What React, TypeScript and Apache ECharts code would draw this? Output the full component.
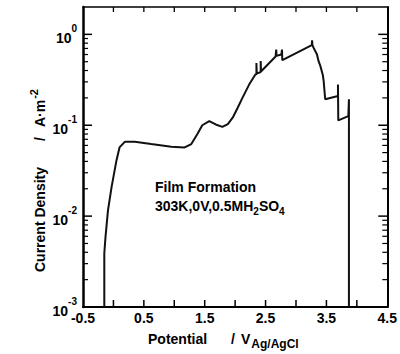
import React, { useEffect, useRef } from 'react';
import * as echarts from 'echarts';

// Potential (V vs Ag/AgCl) and current density (A/m^2)
const potential = [
  -0.15, -0.15, -0.13, -0.09, -0.03, 0.05, 0.1, 0.19, 0.35, 0.62, 0.95, 1.17, 1.28, 1.38, 1.46,
  1.575, 1.68, 1.79, 1.88, 1.96, 2.04, 2.12, 2.23, 2.33,
  2.35, 2.35, 2.355, 2.42, 2.42, 2.425,
  2.665, 2.675, 2.68, 2.76, 2.77, 2.775, 2.8,
  3.26, 3.265, 3.27, 3.29, 3.345, 3.37, 3.4, 3.44, 3.455, 3.48,
  3.69, 3.69, 3.695, 3.86, 3.87, 3.87,
];
const currentDensity = [
  0.001, 0.0039, 0.0059, 0.0115, 0.021, 0.041, 0.057, 0.066, 0.066, 0.062, 0.058, 0.057, 0.062, 0.08, 0.1,
  0.111, 0.102, 0.096, 0.103, 0.121, 0.155, 0.2, 0.28, 0.36,
  0.365, 0.485, 0.37, 0.385, 0.51, 0.39,
  0.57, 0.68, 0.58, 0.6, 0.68, 0.52, 0.53,
  0.76, 0.86, 0.76, 0.71, 0.6, 0.51, 0.45, 0.36, 0.305, 0.193,
  0.21, 0.28, 0.113, 0.126, 0.193, 0.001,
];

const xTickValues = [0, 0.5, 1, 1.5, 2, 2.5, 3, 3.5, 4];
const xTickLabels = ['-0.5', '0.5', '1.5', '2.5', '3.5', '4.5'];
const yDecades = [-3, -2, -1, 0];
const minorMultipliers = [2, 3, 4, 5, 6, 7, 8, 9];
const annotationTitle = 'Film Formation';
const annotationCondition = ['303K,0V,0.5MH', '2', 'SO', '4'];
const xName = ['Potential', '/', 'V', 'Ag/AgCl'];
const yName = ['Current Density', '/', 'A·m', '-2'];

const X_MIN = -0.5;
const X_MAX = 4.5;
const Y_MIN = 0.001;
const Y_MAX = 2;

const FONT = 'Liberation Sans, Arial, sans-serif';
const INK = '#000';

let measureCtx: CanvasRenderingContext2D | null = null;
function textWidth(text: string, size: number): number {
  if (!measureCtx) measureCtx = document.createElement('canvas').getContext('2d');
  if (!measureCtx) return text.length * size * 0.6;
  measureCtx.font = `bold ${size}px "Liberation Sans", Arial, sans-serif`;
  return measureCtx.measureText(text).width;
}

function label(text: string, x: number, y: number, size: number, rotation = 0) {
  return {
    type: 'text',
    x,
    y,
    rotation,
    silent: true,
    style: {
      text,
      fontSize: size,
      fontFamily: FONT,
      fontWeight: 'bold',
      fill: INK,
      align: 'left',
      verticalAlign: 'middle',
    },
  };
}

function tickRect(x: number, y: number, w: number, h: number) {
  return { type: 'rect', silent: true, z: 50, shape: { x, y, width: w, height: h }, style: { fill: INK } };
}

export default function App() {
  const ref = useRef<HTMLDivElement>(null);

  useEffect(() => {
    if (!ref.current) return;
    const chart = echarts.init(ref.current, undefined, { renderer: 'svg' });

    const yLabel = (v: number) => {
      const e = Math.log10(v);
      const r = Math.round(e);
      if (Math.abs(e - r) > 1e-6 || !yDecades.includes(r)) return '';
      return `{b|10}{s|${r === 0 ? '0' : '-' + Math.abs(r)}}`;
    };

    const base = { fontFamily: FONT, fontWeight: 'bold' as const, color: INK, fill: INK };

    chart.setOption({
      animation: false,
      grid: { left: 83, right: 11, top: 7, bottom: 47 },
      xAxis: [
        {
          type: 'value',
          min: X_MIN,
          max: X_MAX,
          interval: 0.5,
          splitLine: { show: false },
          axisLine: { show: true, onZero: false, lineStyle: { color: INK, width: 2 } },
          axisTick: { show: false },
          axisLabel: {
            margin: 4,
            fontSize: 14,
            fontFamily: FONT,
            fontWeight: 'bold',
            color: INK,
            formatter: (v: number) => {
              const s = v.toFixed(1);
              return xTickLabels.includes(s) ? s : '';
            },
          },
        },
        {
          type: 'value',
          min: X_MIN,
          max: X_MAX,
          interval: 0.5,
          position: 'top',
          splitLine: { show: false },
          axisLine: { show: true, lineStyle: { color: INK, width: 1.5 } },
          axisTick: { show: false },
          axisLabel: { show: false },
        },
      ],
      yAxis: [
        {
          type: 'log',
          min: Y_MIN,
          max: Y_MAX,
          interval: 1,
          splitLine: { show: false },
          axisLine: { show: true, onZero: false, lineStyle: { color: INK, width: 2.5 } },
          axisTick: { show: false },
          axisLabel: {
            margin: 6,
            formatter: yLabel,
            rich: {
              b: { ...base, fontSize: 14, padding: [7, 0, 0, 0] },
              s: { ...base, fontSize: 10, verticalAlign: 'top' },
            },
          },
        },
        {
          type: 'log',
          min: Y_MIN,
          max: Y_MAX,
          interval: 1,
          position: 'right',
          splitLine: { show: false },
          axisLine: { show: true, onZero: false, lineStyle: { color: INK, width: 2 } },
          axisTick: { show: false },
          axisLabel: { show: false },
        },
      ],
      series: [
        {
          type: 'line',
          xAxisIndex: 0,
          yAxisIndex: 0,
          data: potential.map((x, i) => [x, currentDensity[i]]),
          showSymbol: false,
          symbol: 'none',
          lineStyle: { color: '#111', width: 2 },
          z: 3,
        },
      ],
    });

    // tick marks placed through the axes' own scales
    const px = (v: number) => chart.convertToPixel({ xAxisIndex: 0 }, v) as number;
    const py = (v: number) => chart.convertToPixel({ yAxisIndex: 0 }, v) as number;
    const left = px(X_MIN);
    const right = px(X_MAX);
    const top = py(Y_MAX);
    const bottom = py(Y_MIN);

    const ticks: any[] = [];
    xTickValues.forEach((v) => {
      const x = px(v);
      ticks.push(tickRect(x - 0.75, bottom - 7, 1.5, 7));
      ticks.push(tickRect(x - 0.65, top, 1.3, 5));
    });
    yDecades.forEach((d) => {
      const y = py(Math.pow(10, d));
      if (d > yDecades[0]) {
        ticks.push(tickRect(left, y - 0.75, 9, 1.5));
      }
      ticks.push(tickRect(right - 9, y - 0.75, 9, 1.5));
      minorMultipliers.forEach((k) => {
        const v = k * Math.pow(10, d);
        if (v >= Y_MAX) return;
        const ym = py(v);
        ticks.push(tickRect(left, ym - 0.6, 5, 1.2));
        ticks.push(tickRect(right - 5, ym - 0.6, 5, 1.2));
      });
    });

    // label layout pieces
    const xn0 = 148;
    const xn1 = xn0 + textWidth(xName[0], 14) + 24;
    const xn2 = xn1 + textWidth(xName[1], 14) + 6;
    const xn3 = xn2 + textWidth(xName[2], 14) + 1;
    const an0 = 155;
    const an1 = an0 + textWidth(annotationCondition[0], 14);
    const an2 = an1 + textWidth(annotationCondition[1], 10);
    const an3 = an2 + textWidth(annotationCondition[2], 14);
    const yn0 = 272;
    const yn1 = yn0 - textWidth(yName[0], 14) - 26;
    const yn2 = yn1 - textWidth(yName[1], 14) - 10;
    const yn3 = yn2 - textWidth(yName[2], 14) - 1;
    const R = Math.PI / 2;

    chart.setOption({
      graphic: [
        label(annotationTitle, 155, 187, 14),
        label(annotationCondition[0], an0, 206, 14),
        label(annotationCondition[1], an1, 211, 10),
        label(annotationCondition[2], an2, 206, 14),
        label(annotationCondition[3], an3, 211, 10),
        label(xName[0], xn0, 338.5, 14),
        label(xName[1], xn1, 338.5, 14),
        label(xName[2], xn2, 338.5, 14),
        label(xName[3], xn3, 343.5, 12),
        label(yName[0], 40, yn0, 14, R),
        label(yName[1], 40, yn1, 14, R),
        label(yName[2], 40, yn2, 14, R),
        label(yName[3], 34, yn3, 11, R),
        ...ticks,
      ],
    });

    return () => chart.dispose();
  }, []);

  return (
    <div
      ref={ref}
      style={{ position: 'fixed', left: 0, top: 0, width: 400, height: 354, background: '#fff' }}
    />
  );
}
